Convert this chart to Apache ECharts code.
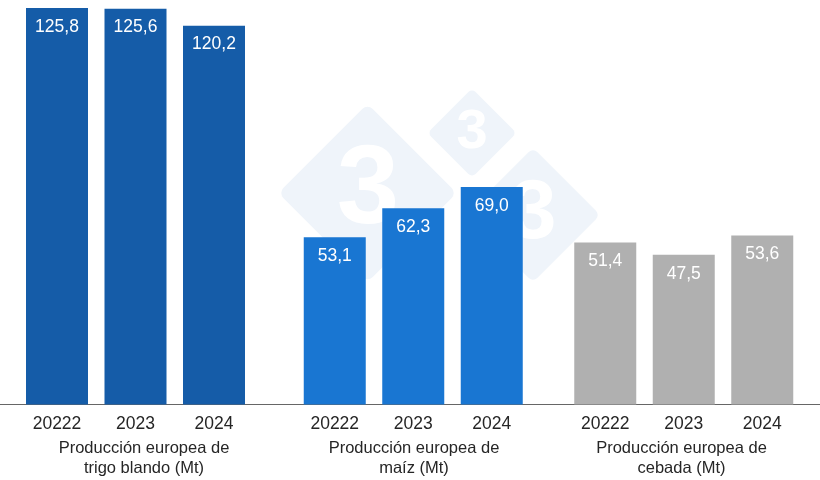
<!DOCTYPE html>
<html lang="es">

<head>
    <meta charset="UTF-8" />
    <title>Producción europea</title>
    <script src="https://cdn.jsdelivr.net/npm/echarts@6/dist/echarts.min.js"></script>
    <style>
        html, body { margin: 0; padding: 0; background: #fff; }
    </style>
</head>

<body>
    <div id="main" style="width: 820px;height:480px;"></div>
</body>
<script>
    var years = ['20222', '2023', '2024'];
    var trigo = [125.8, 125.6, 120.2];
    var maiz = [53.1, 62.3, 69.0];
    var cebada = [51.4, 47.5, 53.6];
    var groupNames = [
        'Producción europea de\ntrigo blando (Mt)',
        'Producción europea de\nmaíz (Mt)',
        'Producción europea de\ncebada (Mt)'
    ];

    var groups = [
        { values: trigo, color: '#155ca8', left: 17.75, nameX: 144 },
        { values: maiz, color: '#1976d2', left: 295.5, nameX: 414 },
        { values: cebada, color: '#b0b0b0', left: 566, nameX: 681.5 }
    ];

    var myChart = echarts.init(document.getElementById('main'));

    var font = '"Liberation Sans", Arial, sans-serif';
    var grids = [], xAxes = [], yAxes = [], series = [], titles = [];

    // grid vacio solo para la linea base de lado a lado
    grids.push({ left: 0, right: 0, top: 8, bottom: 75.5 });
    xAxes.push({
        gridIndex: 0,
        type: 'category',
        data: [''],
        axisLine: { lineStyle: { color: '#666', width: 1 } },
        axisTick: { show: false },
        axisLabel: { show: false }
    });
    yAxes.push({ gridIndex: 0, type: 'value', min: 0, max: 125.8, show: false });

    groups.forEach(function (g, i) {
        var n = i + 1;
        grids.push({ left: g.left, width: 235.5, top: 8, bottom: 75.5 });
        xAxes.push({
            gridIndex: n,
            type: 'category',
            data: years,
            axisLine: { show: false },
            axisTick: { show: false },
            axisLabel: { color: '#262626', fontFamily: font, fontSize: 17.5, margin: 11 }
        });
        yAxes.push({ gridIndex: n, type: 'value', min: 0, max: 125.8, show: false });
        series.push({
            type: 'bar',
            xAxisIndex: n,
            yAxisIndex: n,
            data: g.values,
            barWidth: 62,
            itemStyle: { color: g.color },
            label: {
                show: true,
                position: 'insideTop',
                distance: 10,
                color: '#fff',
                fontFamily: font,
                fontSize: 17.5,
                formatter: function (params) {
                    return params.value.toFixed(1).replace('.', ',');
                }
            }
        });
        titles.push({
            text: groupNames[i],
            left: g.nameX,
            top: 438,
            padding: 0,
            textAlign: 'center',
            textStyle: {
                color: '#262626',
                fontFamily: font,
                fontSize: 16.5,
                fontWeight: 'normal',
                lineHeight: 20
            }
        });
    });

    // marca de agua: rombos con un 3
    function diamond(x, y, side, r) {
        return {
            type: 'rect',
            x: x, y: y,
            rotation: Math.PI / 4,
            z: -2,
            shape: { x: -side / 2, y: -side / 2, width: side, height: side, r: r },
            style: { fill: '#eff4fa' }
        };
    }
    function three(x, y, size) {
        return {
            type: 'text',
            x: x, y: y,
            z: -1,
            style: {
                text: '3',
                fill: '#fff',
                font: 'bold ' + size + 'px ' + font,
                textAlign: 'center',
                textVerticalAlign: 'middle'
            }
        };
    }

    var option = {
        animation: false,
        backgroundColor: '#fff',
        title: titles,
        grid: grids,
        xAxis: xAxes,
        yAxis: yAxes,
        series: series,
        graphic: [
            diamond(367.5, 193, 126, 7),
            diamond(533, 215, 95, 6),
            diamond(472, 133, 63, 5),
            three(368, 192, 112),
            three(533, 215, 84),
            three(472, 133, 56)
        ]
    };

    myChart.setOption(option);
</script>

</html>
